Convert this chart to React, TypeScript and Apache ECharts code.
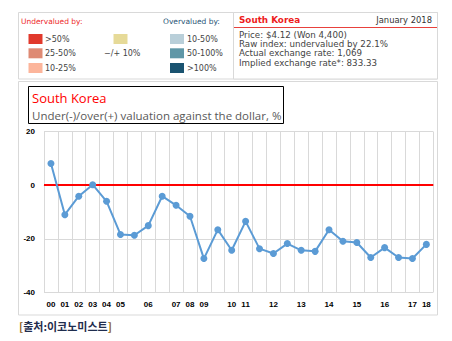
import React, { useEffect, useRef } from "react";
import * as echarts from "echarts";

const categories = [
  "c00", "c01", "c02", "c03", "c04", "c05", "c05b", "c06", "c06b", "c07",
  "c08", "c09", "c09b", "c10", "c11", "c11b", "c12", "c12b", "c13", "c13b",
  "c14", "c14b", "c15", "c15b", "c16", "c16b", "c17", "c18",
];
const tickLabels = [
  "00", "01", "02", "03", "04", "05", "", "06", "", "07",
  "08", "09", "", "10", "11", "", "12", "", "13", "",
  "14", "", "15", "", "16", "", "17", "18",
];
const valuation = [
  8.1, -11.0, -4.1, 0.2, -6.0, -18.4, -18.7, -15.1, -4.1, -7.5,
  -11.6, -27.4, -16.6, -24.3, -13.5, -23.7, -25.5, -21.8, -24.3, -24.7,
  -16.6, -20.9, -21.4, -27.0, -23.3, -27.0, -27.4, -22.1,
];
const yTicks = { min: -40, max: 20, interval: 20 };

const underLegend = [
  { label: ">50%", color: "#e1392c" },
  { label: "25-50%", color: "#de8a74" },
  { label: "10-25%", color: "#fcb59b" },
];
const neutralLegend = { label: "\u2212/+ 10%", color: "#e6da98" };
const overLegend = [
  { label: "10-50%", color: "#b9cfd9" },
  { label: "50-100%", color: "#5f97a7" },
  { label: ">100%", color: "#1a5370" },
];
const infoLines = [
  "Price: $4.12 (Won 4,400)",
  "Raw index: undervalued by 22.1%",
  "Actual exchange rate: 1,069",
  "Implied exchange rate*: 833.33",
];

export default function App() {
  const ref = useRef<HTMLDivElement>(null);
  useEffect(() => {
    const chart = echarts.init(ref.current!, null, { renderer: "svg" });
    const smallFont = "DejaVu Sans";
    const rowY = [39, 53.3, 68];
    const graphic: any[] = [
      // top panels
      { type: "rect", shape: { x: 18.5, y: 12.5, width: 419, height: 66.5 }, style: { fill: "#fff", stroke: "#d9d9d9", lineWidth: 1 } },
      { type: "rect", shape: { x: 233.5, y: 12.5, width: 204, height: 66.5 }, style: { fill: "#fff", stroke: "#d9d9d9", lineWidth: 1 } },
      { type: "line", shape: { x1: 234, y1: 27.5, x2: 437, y2: 27.5 }, style: { stroke: "#e8413c", lineWidth: 1 } },
      { type: "text", x: 21, y: 21, style: { text: "Undervalued by:", fill: "#ee2a2a", font: `7.5px '${smallFont}'`, verticalAlign: "middle" } },
      { type: "text", x: 163, y: 21, style: { text: "Overvalued by:", fill: "#2a5576", font: `7.5px '${smallFont}'`, verticalAlign: "middle" } },
      { type: "text", x: 239, y: 20, style: { text: "South Korea", fill: "#ee1c1c", font: `bold 8.8px '${smallFont}'`, verticalAlign: "middle" } },
      { type: "text", x: 432, y: 20, style: { text: "January 2018", fill: "#333", font: `8.4px '${smallFont}'`, verticalAlign: "middle", align: "right" } },
      // chart frame
      { type: "rect", shape: { x: 18.5, y: 81.5, width: 419, height: 233.5 }, style: { fill: "none", stroke: "#d9d9d9", lineWidth: 1 } },
      { type: "rect", shape: { x: 28.5, y: 86.5, width: 255, height: 37 }, style: { fill: "#fff", stroke: "#000", lineWidth: 1 } },
      { type: "text", x: 32, y: 97.5, style: { text: "South Korea", fill: "#ff0000", font: "13px 'Open Sans'", verticalAlign: "middle" } },
      { type: "text", x: 32, y: 115, style: { text: "Under(-)/over(+) valuation against the dollar, %", fill: "#595959", font: "11.5px 'Open Sans'", verticalAlign: "middle" } },
      // source
      {
        type: "text", x: 19, y: 326,
        style: {
          text: "{b|[}{a|출처:이코노미스트}{b|]}",
          verticalAlign: "middle",
          rich: {
            a: { fill: "#1f2d4e", font: "bold 11px 'Noto Sans CJK KR'" },
            b: { fill: "#8a5a14", font: "bold 11px 'Noto Sans CJK KR'" },
          },
        },
      },
    ];
    underLegend.forEach((d, i) => {
      graphic.push({ type: "rect", shape: { x: 28.5, y: rowY[i] - 5, width: 14, height: 10 }, style: { fill: d.color } });
      graphic.push({ type: "text", x: 45, y: rowY[i], style: { text: d.label, fill: "#444", font: `8px '${smallFont}'`, verticalAlign: "middle" } });
    });
    graphic.push({ type: "rect", shape: { x: 113.5, y: rowY[0] - 5, width: 14, height: 10 }, style: { fill: neutralLegend.color } });
    graphic.push({ type: "text", x: 104, y: rowY[1], style: { text: neutralLegend.label, fill: "#444", font: `8px '${smallFont}'`, verticalAlign: "middle" } });
    overLegend.forEach((d, i) => {
      graphic.push({ type: "rect", shape: { x: 170, y: rowY[i] - 5, width: 14, height: 10 }, style: { fill: d.color } });
      graphic.push({ type: "text", x: 187, y: rowY[i], style: { text: d.label, fill: "#444", font: `8px '${smallFont}'`, verticalAlign: "middle" } });
    });
    infoLines.forEach((t, i) => {
      graphic.push({ type: "text", x: 239, y: 35 + i * 9.2, style: { text: t, fill: "#444", font: `8.7px '${smallFont}'`, verticalAlign: "middle" } });
    });

    chart.setOption({
      animation: false,
      backgroundColor: "#fff",
      graphic,
      grid: { left: 44, right: 18.7, top: 131.7, bottom: 48.7 },
      xAxis: {
        type: "category",
        data: categories,
        boundaryGap: true,
        axisLine: { show: true, lineStyle: { color: "#d9d9d9" } },
        axisTick: { show: false },
        splitLine: { show: true, interval: 0, lineStyle: { color: "#d9d9d9", width: 1 } },
        axisLabel: {
          interval: 0,
          margin: 8,
          color: "#000",
          fontSize: 8,
          fontWeight: "bold",
          fontFamily: "Liberation Sans",
          formatter: (_v: string, i: number) => tickLabels[i],
        },
      },
      yAxis: {
        type: "value",
        min: yTicks.min,
        max: yTicks.max,
        interval: yTicks.interval,
        axisLine: { show: false },
        axisTick: { show: false },
        splitLine: { show: true, lineStyle: { color: "#d9d9d9", width: 1 } },
        axisLabel: { color: "#000", fontSize: 8, fontWeight: "bold", fontFamily: "Liberation Sans", margin: 9 },
      },
      series: [
        {
          type: "line",
          data: valuation,
          symbol: "circle",
          symbolSize: 7,
          lineStyle: { color: "#5b9bd5", width: 2 },
          itemStyle: { color: "#5b9bd5" },
          z: 3,
          markLine: {
            silent: true,
            symbol: "none",
            label: { show: false },
            lineStyle: { color: "#ff0000", width: 2, type: "solid" },
            data: [{ yAxis: 0 }],
            z: 2,
          },
        },
      ],
    });
    return () => chart.dispose();
  }, []);
  return <div ref={ref} style={{ position: "fixed", left: 0, top: 0, width: 452, height: 341, background: "#fff" }} />;
}
